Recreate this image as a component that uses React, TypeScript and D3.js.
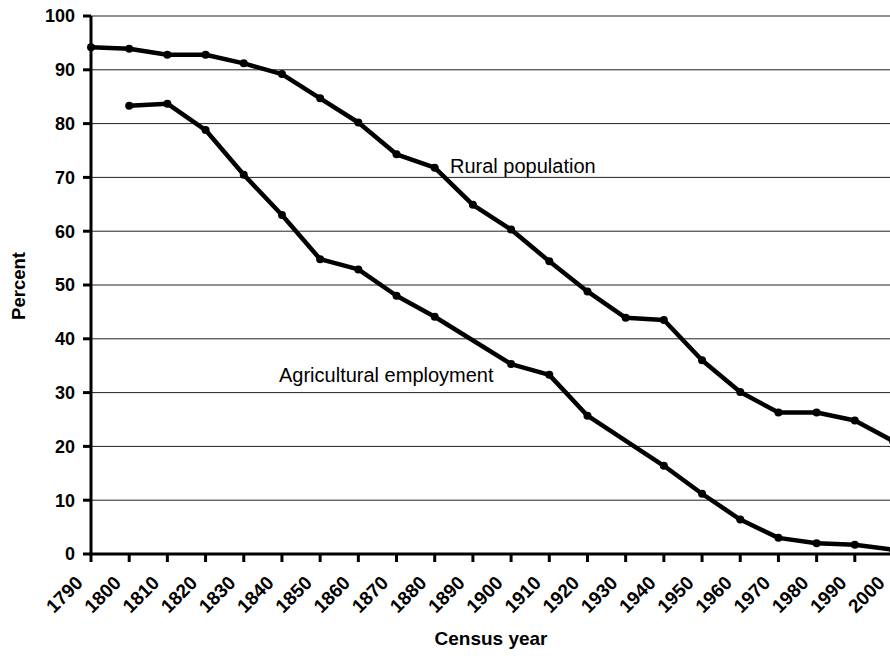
import React from "react";
import * as d3 from "d3";

const years: number[] = [1790,1800,1810,1820,1830,1840,1850,1860,1870,1880,1890,1900,1910,1920,1930,1940,1950,1960,1970,1980,1990,2000];
const rural: (number | null)[] = [94.2,93.9,92.8,92.8,91.2,89.2,84.7,80.2,74.3,71.8,64.9,60.3,54.4,48.8,43.9,43.5,36.0,30.1,26.3,26.3,24.8,21.0];
const agri: (number | null)[] = [null,83.3,83.7,78.8,70.5,63.0,54.8,52.9,48.0,44.1,null,35.3,33.3,25.7,null,16.4,11.2,6.4,3.0,2.0,1.7,0.8];
const yTicks: number[] = [0,10,20,30,40,50,60,70,80,90,100];

export default function App() {
  const W = 890, H = 656;
  const x = d3.scalePoint<number>().domain(years).range([91, 893]);
  const y = d3.scaleLinear().domain([0, 100]).range([554, 16]);
  const mk = (vals: (number | null)[]) => {
    const pts = years.map((yr, i) => ({ yr, v: vals[i] })).filter(d => d.v !== null) as { yr: number; v: number }[];
    const line = d3.line<{ yr: number; v: number }>().x(d => x(d.yr)!).y(d => y(d.v));
    return { pts, path: line(pts) || "" };
  };
  const series = [mk(rural), mk(agri)];
  const font = "Arial, 'Liberation Sans', sans-serif";
  return (
    <svg width={W} height={H} style={{ position: "absolute", left: 0, top: 0 }} fontFamily={font}>
      <rect width={W} height={H} fill="#fff" />
      {yTicks.filter(t => t > 0).map(t => (
        <line key={"g" + t} x1={91} x2={W} y1={y(t)} y2={y(t)} stroke="#222" strokeWidth={1} />
      ))}
      {yTicks.map(t => (
        <g key={"yt" + t}>
          <line x1={83} x2={91} y1={y(t)} y2={y(t)} stroke="#000" strokeWidth={3} />
          <text x={75} y={y(t)} dy="0.36em" textAnchor="end" fontWeight="bold" fontSize={18}>{t}</text>
        </g>
      ))}
      {years.map(yr => (
        <g key={"xt" + yr}>
          <line x1={x(yr)} x2={x(yr)} y1={554} y2={562} stroke="#000" strokeWidth={3} />
          <text transform={`translate(${x(yr)! - 7},${584}) rotate(-45)`} textAnchor="end" fontWeight="bold" fontSize={19}>{yr}</text>
        </g>
      ))}
      <line x1={91} x2={91} y1={16} y2={555.5} stroke="#000" strokeWidth={3} />
      <line x1={89.5} x2={W} y1={554} y2={554} stroke="#000" strokeWidth={3} />
      {series.map((s, i) => (
        <g key={"s" + i}>
          <path d={s.path} fill="none" stroke="#000" strokeWidth={4.5} strokeLinejoin="round" />
          {s.pts.map(p => (
            <circle key={p.yr} cx={x(p.yr)} cy={y(p.v)} r={4} fill="#000" />
          ))}
        </g>
      ))}
      <text x={450} y={173} fontSize={20}>Rural population</text>
      <text x={279} y={382} fontSize={20}>Agricultural employment</text>
      <text transform={`translate(25,286) rotate(-90)`} textAnchor="middle" fontWeight="bold" fontSize={18.5}>Percent</text>
      <text x={491} y={645} textAnchor="middle" fontWeight="bold" fontSize={19}>Census year</text>
    </svg>
  );
}
